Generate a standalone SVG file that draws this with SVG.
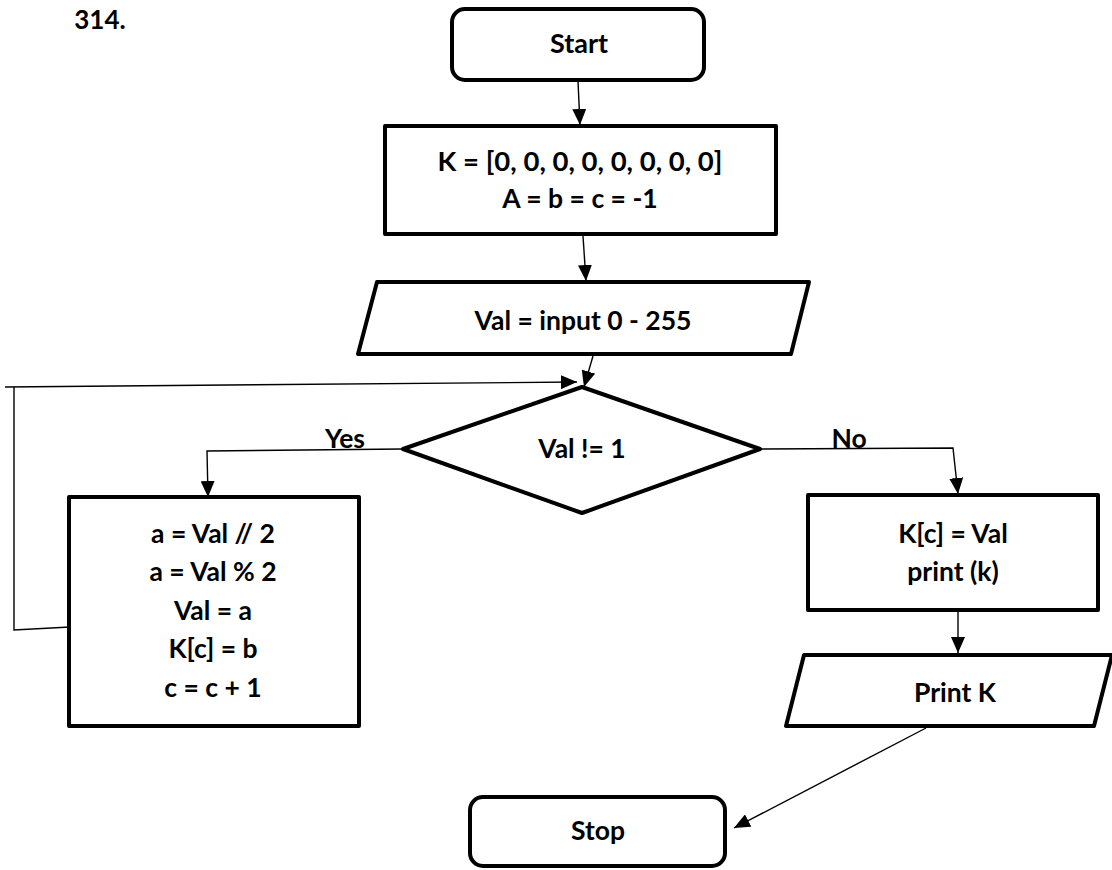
<svg xmlns="http://www.w3.org/2000/svg" width="1112" height="870" viewBox="0 0 1112 870">
  <style>
    .shape { fill: #ffffff; stroke: #000000; stroke-width: 4; stroke-linejoin: round; }
    .conn { fill: none; stroke: #000000; stroke-width: 1.4; }
    .lbl { font-family: Lato, "Open Sans", "Liberation Sans", sans-serif; font-weight: bold; font-size: 26.5px; fill: #000000; text-anchor: middle; }
  </style>
  <defs>
    <marker id="arrow" viewBox="0 0 16 14" refX="16" refY="7" markerWidth="16" markerHeight="14" markerUnits="userSpaceOnUse" orient="auto">
      <path d="M0,0 L16,7 L0,14 z" fill="#000000"/>
    </marker>
  </defs>

  <rect width="1112" height="870" fill="#ffffff"/>

  <text class="lbl" x="100" y="29" style="font-size:26px">314.</text>

  <!-- connectors -->
  <g id="connectors">
    <line class="conn" x1="578" y1="81" x2="580" y2="125" marker-end="url(#arrow)"/>
    <line class="conn" x1="583" y1="236" x2="586" y2="281" marker-end="url(#arrow)"/>
    <line class="conn" x1="593" y1="356" x2="584" y2="387" marker-end="url(#arrow)"/>
    <!-- loop back from the Yes branch -->
    <polyline class="conn" points="70,627 14,630 14,387"/>
    <line class="conn" x1="5" y1="387" x2="577" y2="382" marker-end="url(#arrow)"/>
    <!-- Yes branch -->
    <polyline class="conn" points="403,449 207,451 208,497" marker-end="url(#arrow)"/>
    <!-- No branch -->
    <polyline class="conn" points="760,449 953,448 958,494" marker-end="url(#arrow)"/>
    <line class="conn" x1="958" y1="611" x2="958" y2="653" marker-end="url(#arrow)"/>
    <line class="conn" x1="926" y1="728" x2="734" y2="828" marker-end="url(#arrow)"/>
    <text class="lbl" x="345" y="448">Yes</text>
    <text class="lbl" x="849" y="448">No</text>
  </g>

  <g id="start">
    <rect class="shape" x="452" y="9" width="252" height="71" rx="13"/>
    <text class="lbl" x="579" y="53" style="font-size:27px">Start</text>
  </g>

  <g id="init">
    <rect class="shape" x="385" y="126" width="391" height="108"/>
    <text class="lbl" x="580" y="171" style="font-size:27.5px">K = [0, 0, 0, 0, 0, 0, 0, 0]</text>
    <text class="lbl" x="580" y="208">A = b = c = -1</text>
  </g>

  <g id="input">
    <polygon class="shape" points="377,282 809,282 791,354 358,354"/>
    <text class="lbl" x="583" y="330">Val = input 0 - 255</text>
  </g>

  <g id="decision">
    <polygon class="shape" points="582,387 760,449 582,513 403,449"/>
    <text class="lbl" x="582" y="458">Val != 1</text>
  </g>

  <g id="loop-body">
    <rect class="shape" x="69" y="497" width="290" height="229"/>
    <text class="lbl" x="213" y="543">a = Val // 2</text>
    <text class="lbl" x="213" y="581">a = Val % 2</text>
    <text class="lbl" x="213" y="620">Val = a</text>
    <text class="lbl" x="213" y="658">K[c] = b</text>
    <text class="lbl" x="213" y="697">c = c + 1</text>
  </g>

  <g id="store">
    <rect class="shape" x="808" y="495" width="290" height="115"/>
    <text class="lbl" x="953" y="543">K[c] = Val</text>
    <text class="lbl" x="953" y="581">print (k)</text>
  </g>

  <g id="output">
    <polygon class="shape" points="804,655 1112,655 1094,726 786,726"/>
    <text class="lbl" x="955" y="702">Print K</text>
  </g>

  <g id="stop">
    <rect class="shape" x="470" y="797" width="255" height="69" rx="13"/>
    <text class="lbl" x="598" y="840">Stop</text>
  </g>
</svg>
